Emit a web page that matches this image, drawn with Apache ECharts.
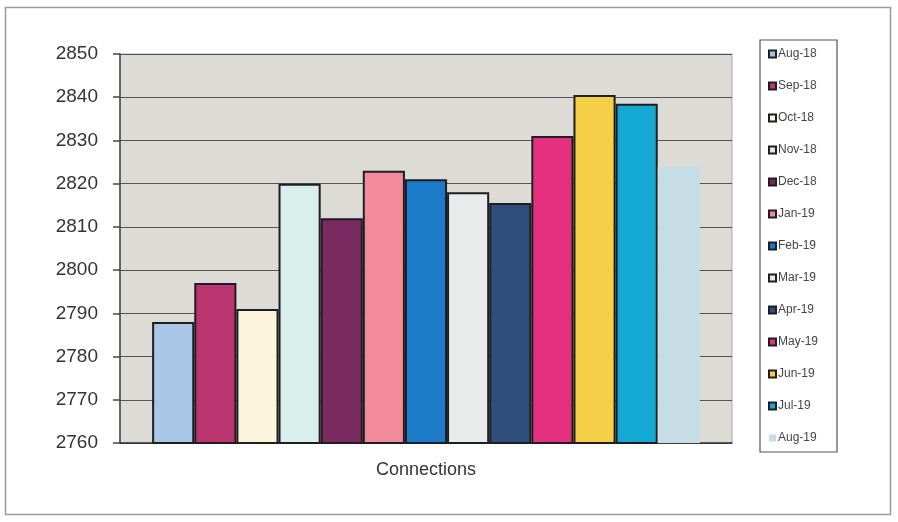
<!DOCTYPE html>
<html>
<head>
<meta charset="utf-8">
<script src="https://cdn.jsdelivr.net/npm/echarts@6/dist/echarts.min.js"></script>
<style>
  html, body { margin: 0; padding: 0; background: #fff; }
  #chart { width: 898px; height: 522px; }
</style>
</head>
<body>
<div id="chart"></div>
<script>
// Monthly connection counts, one bar per month in a single category
const categories = ['Connections'];
const months = ['Aug-18', 'Sep-18', 'Oct-18', 'Nov-18', 'Dec-18', 'Jan-19', 'Feb-19',
                'Mar-19', 'Apr-19', 'May-19', 'Jun-19', 'Jul-19', 'Aug-19'];
const connections = [2788, 2797, 2791, 2820, 2812, 2823, 2821, 2818, 2815.5, 2831, 2840.5, 2838.5, 2824];
const barColors = ['#a9c6e6', '#bb3570', '#fdf4dc', '#d9efec', '#7a2a5e', '#f18b9c', '#1b7bc9',
                   '#e9eaea', '#2f4e7c', '#e5307f', '#f5cf47', '#14a9d3', '#c6dde6'];
const yTicks = { min: 2760, max: 2850, step: 10 };

const FONT = '"Liberation Sans", Arial, sans-serif';

const series = months.map((m, i) => ({
  name: m,
  type: 'bar',
  data: [connections[i]],
  barGap: '0%',
  barCategoryGap: '10.5%',
  itemStyle: {
    color: barColors[i],
    borderColor: i === months.length - 1 ? barColors[i] : '#1e1e22',
    borderWidth: i === months.length - 1 ? 0 : 2
  },
  emphasis: { disabled: true }
}));

const chart = echarts.init(document.getElementById('chart'), null, { renderer: 'canvas' });
chart.setOption({
  animation: false,
  backgroundColor: '#ffffff',
  graphic: [{
    type: 'rect',
    shape: { x: 5.5, y: 7.5, width: 885, height: 507 },
    style: { fill: null, stroke: '#9a9a9a', lineWidth: 1.5 },
    silent: true,
    z: -1
  }],
  grid: {
    left: 120, right: 166, top: 54, bottom: 79,
    show: true,
    backgroundColor: '#dcdbd6',
    borderColor: '#a8a8a8',
    borderWidth: 1
  },
  legend: {
    orient: 'vertical',
    left: 760,
    top: 40,
    padding: [7, 19, 7, 8],
    itemGap: 18,
    itemWidth: 7,
    itemHeight: 7,
    icon: 'rect',
    borderColor: '#555',
    borderWidth: 1.2,
    backgroundColor: '#fff',
    textStyle: { fontFamily: FONT, fontSize: 12, color: '#444', lineHeight: 14, padding: [0, 0, 0, -3] },
    data: months
  },
  xAxis: {
    type: 'category',
    data: categories,
    axisLine: { show: true, lineStyle: { color: '#333', width: 1.5 } },
    axisTick: { show: false },
    axisLabel: { fontFamily: FONT, fontSize: 18, color: '#333', margin: 18 },
    splitLine: { show: false }
  },
  yAxis: {
    type: 'value',
    min: yTicks.min,
    max: yTicks.max,
    interval: yTicks.step,
    axisLine: { show: true, lineStyle: { color: '#444', width: 1.5 } },
    axisTick: { show: true, inside: false, length: 7, lineStyle: { color: '#444', width: 1.5 } },
    axisLabel: { fontFamily: FONT, fontSize: 19, color: '#333', margin: 22, formatter: v => String(v) },
    splitLine: { show: true, lineStyle: { color: '#555', width: 1.2 } }
  },
  series: series
});
</script>
</body>
</html>
